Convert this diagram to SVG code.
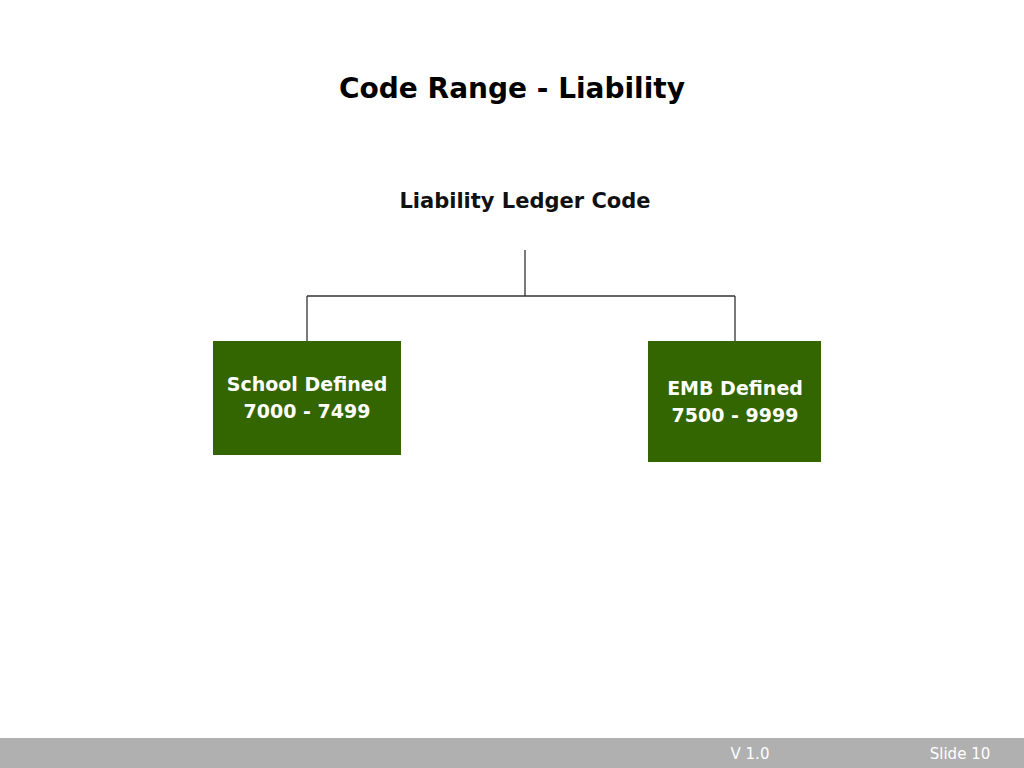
<svg xmlns="http://www.w3.org/2000/svg" width="1024" height="768" viewBox="0 0 1024 768">
<style>
text{font-family:"DejaVu Sans","Open Sans",sans-serif;font-weight:bold;text-anchor:middle}
.title{font-size:28px;fill:#000}
.root{font-size:21px;fill:#111}
.box{fill:#336600}
.lbl{font-size:19px;fill:#fff}
.conn{stroke:#333;stroke-width:1.3;fill:none}
.foot{font-size:15px;fill:#fff;font-weight:normal}
</style>
<rect width="1024" height="768" fill="#fff"/>
<text class="title" x="512" y="98">Code Range - Liability</text>
<g id="root"><text class="root" x="525" y="208">Liability Ledger Code</text></g>
<g id="connectors">
<path class="conn" d="M525 250V296M307 296H735M307 296V341M735 296V341"/>
</g>
<g id="school">
<rect class="box" x="213" y="341" width="188" height="114"/>
<text class="lbl" x="307" y="391">School Defined</text>
<text class="lbl" x="307" y="418">7000 - 7499</text>
</g>
<g id="emb">
<rect class="box" x="648" y="341" width="173" height="121"/>
<text class="lbl" x="735" y="395">EMB Defined</text>
<text class="lbl" x="735" y="422">7500 - 9999</text>
</g>
<rect x="0" y="738" width="1024" height="30" fill="#b0b0b0"/>
<text class="foot" x="750" y="759">V 1.0</text>
<text class="foot" x="960" y="759">Slide 10</text>
</svg>
